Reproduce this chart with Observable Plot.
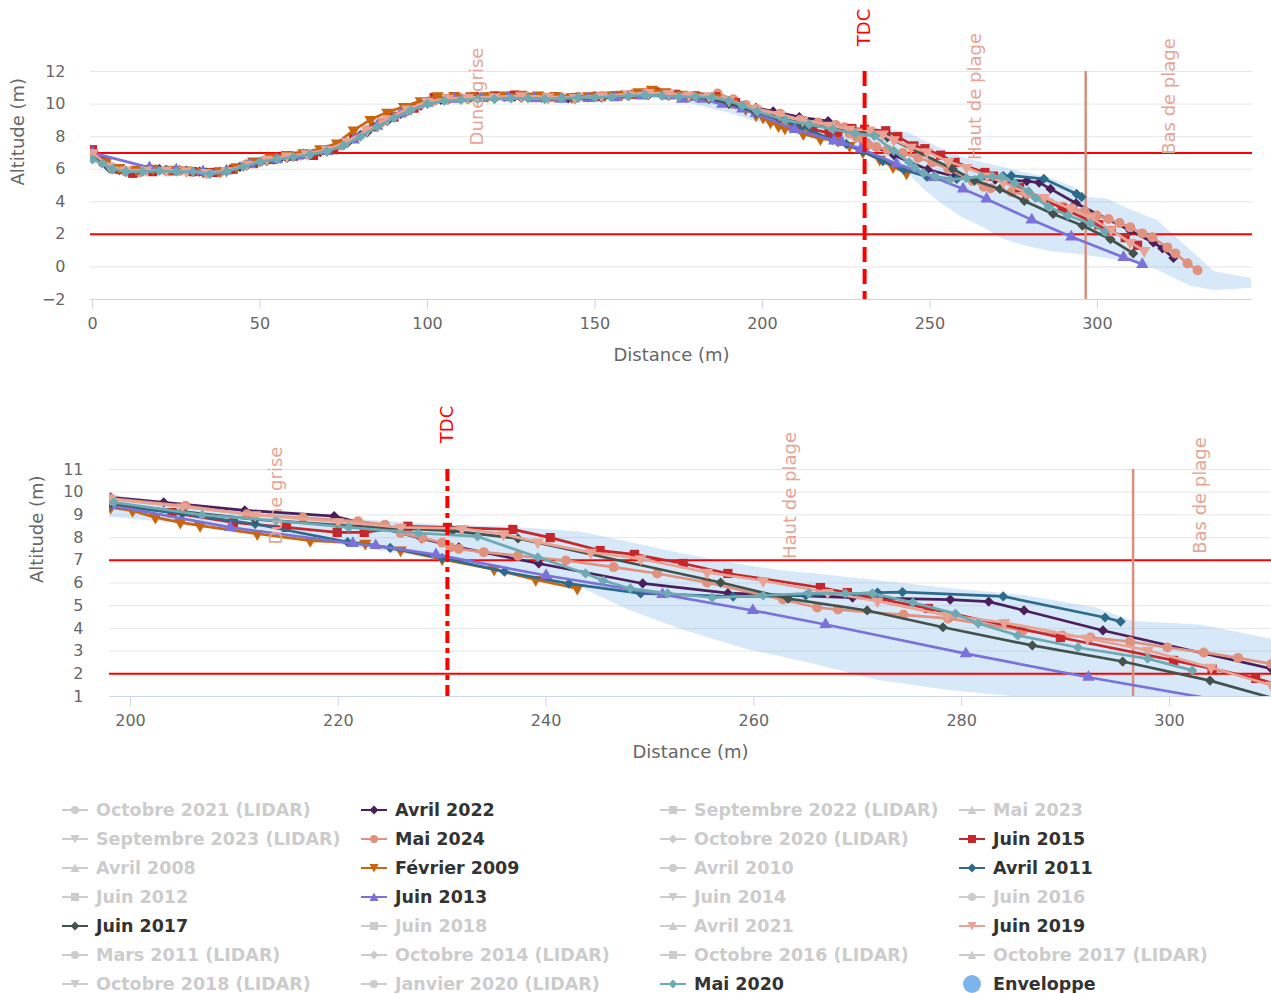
<!DOCTYPE html>
<html><head><meta charset="utf-8">
<script src="https://cdn.jsdelivr.net/npm/d3@7"></script>
<script src="https://cdn.jsdelivr.net/npm/@observablehq/plot@0.6"></script>
<style>
body{margin:0;background:#fff;width:1271px;height:993px;overflow:hidden;font-family:"DejaVu Sans",sans-serif;position:relative;}
#top{position:absolute;left:0;top:0}
#bottom{position:absolute;left:0;top:375px}
#legend{position:absolute;left:62px;top:795px;display:grid;grid-template-columns:299px 299px 299px 299px;}
.item{height:29px;display:flex;align-items:center;font-weight:bold;font-size:17.5px;white-space:nowrap}
.item svg{flex:none;margin-right:8px}
</style></head><body>
<div id="top"></div><div id="bottom"></div><div id="legend"></div>
<script>
// ---------- data ----------
const avril2022 = [[0,7.1],[4,6.3],[8,5.95],[14,5.95],[20,6.0],[26,5.95],[32,5.85],[38,5.85],[44,6.15],[50,6.45],[56,6.65],[62,6.85],[68,7.05],[74,7.5],[80,8.1],[86,8.8],[92,9.4],[98,9.9],[104,10.25],[110,10.35],[118,10.45],[126,10.45],[134,10.4],[142,10.35],[150,10.45],[158,10.55],[166,10.6],[172,10.55],[180,10.45],[186,10.35],[192,10.0],[198.1,9.77],[203.2,9.55],[211,9.2],[219.6,8.95],[228,7.96],[231.6,7.57],[239.3,6.86],[249.3,5.98],[257.5,5.55],[269.5,5.36],[278.9,5.27],[282.6,5.18],[286,4.79],[293.6,3.91],[309.8,2.23],[316.7,1.5],[319.4,1.14],[322.7,0.55]];
const mai2024 = [[0,6.9],[3,6.4],[6,6.0],[10,5.85],[14,5.8],[18,5.95],[22,5.9],[26,5.9],[30,5.85],[34,5.75],[38,5.8],[42,6.0],[46,6.3],[50,6.45],[54,6.6],[58,6.75],[62,6.85],[66,6.95],[70,7.15],[74,7.45],[78,7.9],[82,8.4],[86,8.85],[90,9.25],[94,9.65],[98,10.0],[102,10.2],[106,10.3],[110,10.35],[115,10.4],[120,10.45],[125,10.5],[130,10.45],[135,10.4],[140,10.4],[145,10.45],[150,10.5],[155,10.5],[160,10.55],[165,10.7],[170,10.65],[175,10.55],[180,10.5],[186.6,10.65],[191.3,10.3],[195,9.95],[198.1,9.72],[205.3,9.4],[211.2,9.03],[216.6,8.87],[221.9,8.72],[224.5,8.57],[226,8.2],[228.1,7.98],[230,7.78],[230.8,7.57],[231.6,7.5],[234,7.36],[237.3,7.2],[241.9,6.99],[246.5,6.7],[250.7,6.42],[255.5,6.02],[262.8,5.27],[266.1,4.92],[268.1,4.83],[274.4,4.6],[278.7,4.44],[285.9,3.91],[289.7,3.69],[292.4,3.6],[296.2,3.42],[299.8,3.16],[303.3,2.94],[306.6,2.7],[309.8,2.43],[313.4,2.06],[316.4,1.82],[320.9,1.2],[323.3,0.83],[326.9,0.22],[329.9,-0.2]];
const juin2015 = [[0,7.2],[4,6.5],[8,6.0],[12,5.75],[18,5.85],[24,5.9],[30,5.85],[36,5.8],[42,6.0],[48,6.35],[54,6.6],[60,6.8],[66,6.85],[72,7.2],[78,7.9],[84,8.6],[90,9.2],[96,9.75],[102,10.4],[108,10.45],[114,10.45],[120,10.5],[126,10.55],[132,10.4],[138,10.45],[144,10.4],[150,10.45],[156,10.5],[162,10.6],[168,10.75],[174,10.6],[180,10.5],[186,10.45],[192,10.1],[198.1,9.55],[204,9.1],[209.9,8.67],[215,8.45],[219.9,8.23],[222.5,8.23],[226.7,8.5],[230.5,8.45],[236.8,8.36],[240.4,8.0],[245.2,7.43],[248.5,7.26],[253.2,6.86],[257.5,6.42],[266.4,5.8],[269,5.58],[276.8,4.88],[289.5,3.6],[300.4,2.59],[304.1,2.23],[308.3,1.8],[312,1.33]];
const fevrier2009 = [[0,6.9],[4,6.45],[8,6.1],[13,6.0],[18,6.05],[23,6.0],[28,5.95],[33,5.85],[38,5.9],[43,6.15],[48,6.5],[53,6.75],[58,6.9],[63,7.0],[68,7.25],[73,7.6],[78,8.4],[83,9.05],[88,9.5],[93,9.85],[98,10.2],[103,10.5],[108,10.5],[113,10.5],[118,10.5],[123,10.55],[128,10.6],[133,10.55],[138,10.5],[143,10.45],[148,10.5],[153,10.55],[158,10.6],[163,10.75],[167,10.9],[171,10.75],[176,10.6],[181,10.5],[186,10.4],[191,10.1],[195,9.7],[198.1,9.33],[200.2,9.19],[202.4,8.89],[204.8,8.67],[206.7,8.53],[212.2,8.17],[217.3,7.87],[222.6,7.75],[226,7.45],[230,7.05],[235,6.6],[239,6.15],[243,5.76]];
const avril2011 = [[0,6.7],[5,6.05],[10,5.85],[16,5.9],[22,5.95],[28,5.9],[34,5.75],[40,5.85],[46,6.2],[52,6.5],[58,6.7],[64,6.9],[70,7.1],[76,7.6],[82,8.25],[88,8.95],[94,9.55],[100,10.05],[106,10.25],[112,10.3],[120,10.35],[128,10.4],[136,10.35],[144,10.3],[152,10.4],[160,10.5],[166,10.55],[172,10.5],[178,10.4],[184,10.3],[190,10.0],[198.1,9.42],[205,9.05],[212,8.6],[220.9,7.8],[225,7.55],[230,7.1],[236,6.5],[242.2,5.97],[249.1,5.54],[258,5.4],[265,5.45],[271.9,5.58],[274.3,5.6],[284,5.41],[293.8,4.48],[295.3,4.3]];
const juin2013 = [[0,7.0],[17,6.1],[25,5.95],[33,5.85],[40,5.9],[47,6.3],[55,6.6],[63,6.85],[70,7.1],[78,7.8],[85,8.65],[92,9.4],[100,10.05],[108,10.3],[116,10.35],[124,10.4],[132,10.35],[140,10.3],[148,10.35],[156,10.4],[164,10.5],[172,10.5],[176,10.3],[182,10.3],[188,10.0],[194,9.7],[198.1,9.42],[209.6,8.45],[221.4,7.74],[223.6,7.65],[229.4,7.25],[240,6.33],[251.2,5.5],[259.9,4.79],[266.9,4.17],[280.4,2.89],[292.2,1.85],[307.8,0.59],[313.4,0.16]];
const juin2017 = [[0,6.8],[5,6.1],[10,5.9],[16,5.95],[22,5.95],[28,5.9],[34,5.8],[40,5.9],[46,6.25],[52,6.5],[58,6.7],[64,6.9],[70,7.1],[76,7.6],[82,8.3],[88,9.0],[94,9.6],[100,10.05],[106,10.25],[112,10.3],[120,10.35],[128,10.4],[136,10.35],[144,10.35],[152,10.4],[160,10.5],[166,10.6],[172,10.55],[178,10.45],[184,10.35],[190,10.05],[198.1,9.5],[205,9.15],[212,8.8],[220,8.55],[226,8.4],[231,8.3],[237.3,7.96],[256.8,6.02],[263.3,5.31],[270.9,4.79],[278.2,4.05],[286.8,3.25],[295.5,2.54],[303.9,1.7],[310.7,0.83]];
const juin2019 = [[0,7.0],[5,6.2],[10,5.95],[16,5.95],[22,5.95],[28,5.9],[34,5.8],[40,5.9],[46,6.3],[52,6.6],[58,6.8],[64,6.95],[70,7.2],[76,7.7],[82,8.4],[88,9.1],[94,9.7],[100,10.15],[106,10.35],[112,10.4],[120,10.45],[128,10.5],[136,10.45],[144,10.4],[152,10.5],[160,10.6],[166,10.7],[172,10.65],[178,10.55],[184,10.5],[190,10.25],[198.1,9.7],[205,9.35],[212,9.0],[220,8.7],[226,8.45],[231.9,8.4],[235.9,8.15],[239.2,7.8],[244.3,7.35],[249.1,7.07],[255.5,6.47],[260.9,6.1],[267.1,5.58],[271.9,5.2],[278.6,4.57],[284.1,4.26],[292.1,3.56],[297.9,3.03],[304,2.28],[309.8,1.5],[314,1.0]];
const mai2020 = [[0,6.6],[3,6.35],[6,6.0],[10,5.85],[15,5.85],[20,5.9],[25,5.85],[30,5.85],[35,5.7],[40,5.85],[45,6.15],[50,6.45],[55,6.6],[60,6.75],[65,6.9],[70,7.1],[75,7.45],[80,8.0],[85,8.6],[90,9.15],[95,9.6],[100,10.0],[105,10.2],[110,10.25],[115,10.3],[120,10.3],[125,10.35],[130,10.35],[135,10.3],[140,10.35],[145,10.4],[150,10.4],[155,10.45],[160,10.5],[165,10.55],[170,10.5],[175,10.45],[180,10.45],[185,10.4],[190,10.2],[194,9.9],[198.4,9.55],[206.9,9.0],[214,8.75],[221,8.45],[227.7,8.2],[233.4,8.05],[239.2,7.13],[243.8,6.42],[245.5,6.11],[248.1,5.76],[251.7,5.54],[256,5.36],[260.9,5.45],[265.3,5.54],[268.8,5.54],[271.4,5.54],[275.3,5.14],[279.4,4.65],[281.6,4.22],[285.4,3.69],[291.2,3.16],[297.9,2.67],[302.2,2.15]];

const envX    = [0,3,6,10,15,20,25,30,35,40,45,50,55,60,65,70,75,80,85,90,95,100,105,110,120,130,140,150,160,166,172,178,184,190,198,205,212,220,230,237,243.3,248,253,259.5,262.6,266,272,279,286,293,296.5,303,310,318,328,335,343,346];
const envHigh = [7.25,6.6,6.2,6.0,6.0,6.05,6.05,6.0,5.95,6.05,6.3,6.6,6.8,6.95,7.05,7.3,7.75,8.5,9.15,9.6,9.95,10.3,10.55,10.55,10.6,10.65,10.6,10.6,10.7,10.95,10.8,10.65,10.7,10.35,9.85,9.5,9.15,8.85,8.55,8.45,8.25,7.8,7.3,6.75,6.55,6.4,6.1,5.75,5.45,4.9,4.3,4.15,3.5,2.85,1.0,-0.3,-0.6,-0.7];
const envLow  = [6.55,6.2,5.85,5.65,5.7,5.75,5.75,5.7,5.6,5.7,6.0,6.3,6.5,6.65,6.75,6.95,7.3,7.8,8.45,9.0,9.45,9.85,10.1,10.15,10.2,10.25,10.2,10.25,10.3,10.4,10.35,10.05,9.75,9.45,8.9,8.6,8.2,7.7,7.0,6.5,5.8,4.8,3.95,3.05,2.75,2.4,1.7,1.25,0.95,0.8,0.7,0.5,0.3,-0.2,-1.2,-1.45,-1.35,-1.3];

const seriesNames   = ["Avril 2022","Mai 2024","Juin 2015","Février 2009","Avril 2011","Juin 2013","Juin 2017","Juin 2019","Mai 2020"];
const seriesData    = [avril2022, mai2024, juin2015, fevrier2009, avril2011, juin2013, juin2017, juin2019, mai2020];
const seriesColors  = ["#4a1f5c","#e0927f","#c8262b","#c9660d","#2d6b8d","#7a72da","#44524d","#e8a394","#6eaab3"];
const seriesSymbols = ["diamond","circle","square","triangle-down","diamond","triangle","diamond","triangle-down","diamond"];

const refLevels = [7, 2];
const tdc = [230.5];
const basDePlage = [296.5];
const zoneNames = ["Dune grise","Haut de plage","Bas de plage"];
const zoneXTop = [115, 263.5, 321.5];
const zoneXBottom = [214, 263.5, 303];

const topXTicks = [0,50,100,150,200,250,300];
const topYTicks = [-2,0,2,4,6,8,10,12];
const botXTicks = [200,220,240,260,280,300];
const botYTicks = [1,2,3,4,5,6,7,8,9,10,11];

const legendNames = ["Octobre 2021 (LIDAR)","Avril 2022","Septembre 2022 (LIDAR)","Mai 2023",
  "Septembre 2023 (LIDAR)","Mai 2024","Octobre 2020 (LIDAR)","Juin 2015",
  "Avril 2008","Février 2009","Avril 2010","Avril 2011",
  "Juin 2012","Juin 2013","Juin 2014","Juin 2016",
  "Juin 2017","Juin 2018","Avril 2021","Juin 2019",
  "Mars 2011 (LIDAR)","Octobre 2014 (LIDAR)","Octobre 2016 (LIDAR)","Octobre 2017 (LIDAR)",
  "Octobre 2018 (LIDAR)","Janvier 2020 (LIDAR)","Mai 2020","Enveloppe"];
const legendSymbolCycle = ["circle","diamond","square","triangle","triangle-down"];

// ---------- charts ----------
const envTable = envX.map((x, i) => ({x, lo: envLow[i], hi: envHigh[i]}));
const symbolMap = {"diamond": ["diamond2", 0, 4.6], "circle": ["circle", 0, 5], "square": ["square", 0, 5.2], "triangle": ["triangle", 0, 4.6], "triangle-down": ["triangle", 180, 4.6]};

function chart(o) {
  const marks = [
    Plot.gridY(o.yTicks, {stroke: "#e6e6e6", strokeOpacity: 1, strokeWidth: 1}),
    Plot.areaY(envTable, {x: "x", y1: "lo", y2: "hi", fill: "#7cb5ec", fillOpacity: 0.3, clip: true}),
    Plot.ruleY([o.yDomain[0]], {stroke: "#ccd6eb", strokeWidth: 1}),
    Plot.ruleY(refLevels, {stroke: "#ff0000", strokeWidth: 2}),
    Plot.ruleX(basDePlage, {stroke: "#d6907e", strokeWidth: 2.5})
  ];
  seriesData.forEach((data, i) => {
    const [sym, rot, r] = symbolMap[seriesSymbols[i]];
    marks.push(Plot.line(data, {x: d => d[0], y: d => d[1], stroke: seriesColors[i], strokeWidth: 2.7, clip: true}));
    marks.push(Plot.dot(data, {x: d => d[0], y: d => d[1], fill: seriesColors[i], symbol: sym, rotate: rot, r, clip: true}));
  });
  marks.push(
    Plot.ruleX(tdc, {stroke: "#ff0000", strokeWidth: 4, strokeDasharray: o.dash}),
    Plot.axisX(o.xTicks, {tickSize: 10, tickPadding: 8, stroke: "#ccd6eb", fill: "#666", fontSize: 16, label: null}),
    Plot.axisY(o.yTicks, {tickSize: 0, tickPadding: o.yPad, fill: "#666", fontSize: 16, label: null}),
    Plot.text(o.zoneX, {x: d => d, text: (d, i) => zoneNames[i], frameAnchor: "top", lineAnchor: "middle", dy: o.zoneDy, rotate: -90, fill: "#e6a596", fontSize: 18}),
    Plot.text(tdc, {x: d => d, text: () => "TDC", frameAnchor: "top", lineAnchor: "middle", dy: o.tdcDy, rotate: -90, fill: "#ff0000", fontSize: 18}),
    Plot.text(["Distance (m)"], {frameAnchor: "bottom", lineAnchor: "middle", dy: 56, fill: "#666", fontSize: 18}),
    Plot.text(["Altitude (m)"], {frameAnchor: "left", lineAnchor: "middle", dx: -72, rotate: -90, fill: "#666", fontSize: 18})
  );
  return Plot.plot({
    width: 1271, height: o.height,
    marginTop: o.mt, marginBottom: o.mb, marginLeft: o.ml, marginRight: o.mr,
    x: {domain: o.xDomain},
    y: {domain: o.yDomain},
    style: {fontFamily: '"DejaVu Sans", sans-serif', fontSize: "16px", background: "white", overflow: "visible"},
    marks
  });
}

document.getElementById("top").append(chart({
  height: 375, mt: 71, mb: 76, ml: 90, mr: 19,
  xDomain: [-0.6, 346.3], yDomain: [-2, 12],
  xTicks: topXTicks, yTicks: topYTicks, yPad: 25,
  zoneX: zoneXTop, zoneDy: 25, tdcDy: -44, dash: "15,7"
}));
document.getElementById("bottom").append(chart({
  height: 400, mt: 94, mb: 79, ml: 109, mr: 0,
  xDomain: [197.98, 309.82], yDomain: [1, 11],
  xTicks: botXTicks, yTicks: botYTicks, yPad: 26,
  zoneX: zoneXBottom, zoneDy: 26, tdcDy: -45, dash: "12,5,5,5"
}));

// ---------- legend ----------
function symbolSVG(shape, color, isArea) {
  if (isArea) return `<svg width="26" height="20"><circle cx="13" cy="10" r="9" fill="${color}"/></svg>`;
  let m = "";
  if (shape === "circle") m = `<circle cx="13" cy="10" r="4" fill="${color}"/>`;
  else if (shape === "square") m = `<rect x="9" y="6" width="8" height="8" fill="${color}"/>`;
  else if (shape === "diamond") m = `<path d="M13 5.5L17.5 10L13 14.5L8.5 10Z" fill="${color}"/>`;
  else if (shape === "triangle") m = `<path d="M13 5.5L17.5 14L8.5 14Z" fill="${color}"/>`;
  else m = `<path d="M13 14.5L17.5 6L8.5 6Z" fill="${color}"/>`;
  return `<svg width="26" height="20"><line x1="0" y1="10" x2="26" y2="10" stroke="${color}" stroke-width="2"/>${m}</svg>`;
}
const legend = document.getElementById("legend");
legendNames.forEach((name, i) => {
  const idx = seriesNames.indexOf(name);
  const isEnv = name === "Enveloppe";
  const visible = idx >= 0 || isEnv;
  const color = isEnv ? "#7cb5ec" : (idx >= 0 ? seriesColors[idx] : "#cccccc");
  const div = document.createElement("div");
  div.className = "item";
  div.style.color = visible ? "#333333" : "#cccccc";
  div.innerHTML = symbolSVG(legendSymbolCycle[i % 5], color, isEnv) + `<span>${name}</span>`;
  legend.append(div);
});
</script></body></html>
